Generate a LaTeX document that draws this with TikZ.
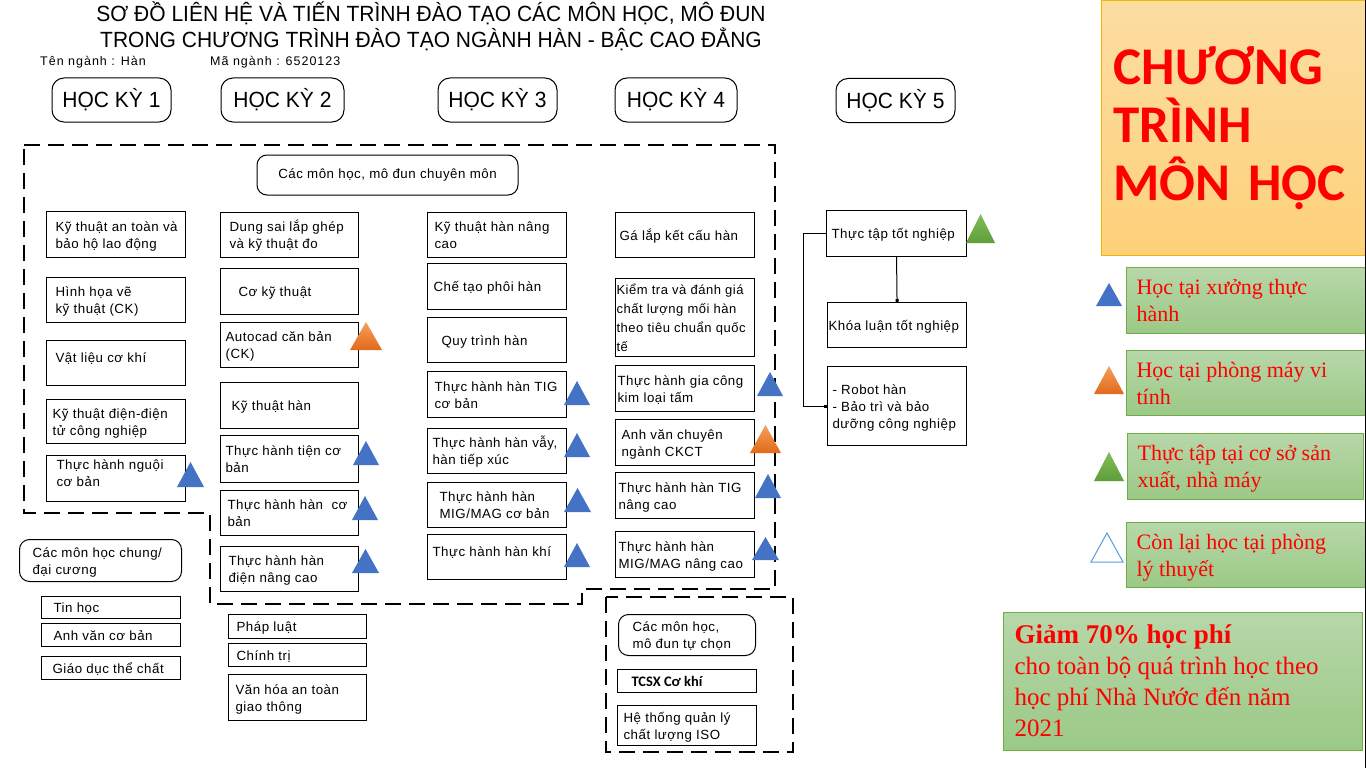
\documentclass[tikz,border=0pt]{standalone}
\usepackage{fontspec}
\setmainfont{Liberation Sans}
\newfontfamily\seriffont{Liberation Serif}
\newfontfamily\calfont{Carlito}
\newfontfamily\narrowfont[FakeStretch=0.955]{Liberation Sans}
\newfontfamily\smallnarrow[LetterSpace=8]{Liberation Sans}
\newfontfamily\boxfam[LetterSpace=4]{Liberation Sans}
\usetikzlibrary{arrows.meta}
\definecolor{triblue}{HTML}{4472C4}
\definecolor{oranA}{HTML}{F4A05C}
\definecolor{oranB}{HTML}{E2691A}
\definecolor{grnA}{HTML}{80BE5A}
\definecolor{grnB}{HTML}{5E9E38}
\definecolor{legA}{HTML}{B7D7A9}
\definecolor{legB}{HTML}{9BC986}
\definecolor{legEdge}{HTML}{70AD47}
\definecolor{panA}{HTML}{FCDDA2}
\definecolor{panB}{HTML}{FDD17A}
\definecolor{panEdge}{HTML}{F2B800}
\definecolor{outlineblue}{HTML}{5B9BD5}
\newcommand\boxfont{\boxfam\fontsize{13.3}{17}\selectfont}
\newcommand\boxfontB{\boxfam\fontsize{13}{19}\selectfont}
\newcommand\legfont{\seriffont\fontsize{22}{27}\selectfont}
\tikzset{
  box/.style={draw, line width=1.1pt, anchor=north west, align=left, inner ysep=0pt, font=\boxfont},
  pillbox/.style={box, rounded corners=10pt, line width=1pt},
  legbox/.style={draw=legEdge, line width=1.2pt, top color=legA, bottom color=legB, anchor=north west, align=left, inner ysep=0pt, text=red, font=\legfont},
  dashline/.style={line width=1.2pt, dash pattern=on 16pt off 8pt},
  semester/.style={draw, rounded corners=12pt, line width=1pt, minimum width=119pt, minimum height=44pt, font=\narrowfont\fontsize{22}{24}\selectfont},
  conn/.style={line width=1pt, -{Square[length=3pt,width=3pt]}},
}
\newcommand\bx[8][box]{\pgfmathsetmacro\tw{#5-2*#7}\node[#1, minimum width=#5pt, minimum height=#6pt, inner xsep=#7pt] (#2) at (#3,#4) {\raisebox{-2pt}[\height][\depth]{\makebox[\tw pt][l]{\begin{tabular}{@{}l@{}}#8\end{tabular}}}};}
\newcommand\bluetri[4]{\fill[triblue] (#1,#2+#4) -- ++(#3,0) -- ++(-#3/2,-#4) -- cycle;}
\newcommand\orangetri[4]{\shade[top color=oranA, bottom color=oranB] (#1,#2+#4) -- ++(#3,0) -- ++(-#3/2,-#4) -- cycle;}
\newcommand\greentri[4]{\shade[top color=grnA, bottom color=grnB] (#1,#2+#4) -- ++(#3,0) -- ++(-#3/2,-#4) -- cycle;}
\begin{document}
\begin{tikzpicture}[x=1pt,y=-1pt]
\useasboundingbox (0,0) rectangle (1366,768);
\fill[white] (0,0) rectangle (1366,768);

% title
\node[font=\narrowfont\fontsize{22}{26}\selectfont, align=center, inner sep=0pt] (title) at (431,26.5)
  {SƠ ĐỒ LIÊN HỆ VÀ TIẾN TRÌNH ĐÀO TẠO CÁC MÔN HỌC, MÔ ĐUN\\TRONG CHƯƠNG TRÌNH ĐÀO TẠO NGÀNH HÀN - BẬC CAO ĐẲNG};
\node[anchor=west, inner sep=0pt, font=\smallnarrow\fontsize{12.5}{14}\selectfont] (tennganh) at (40,62) {Tên ngành : Hàn};
\node[anchor=west, inner sep=0pt, font=\smallnarrow\fontsize{12.5}{14}\selectfont] (manganh) at (210,62) {Mã ngành : 6520123};

% semesters
\node[semester] (hk1) at (111.5,100) {HỌC KỲ 1};
\node[semester, minimum width=123pt] (hk2) at (282.5,100) {HỌC KỲ 2};
\node[semester] (hk3) at (497.5,100) {HỌC KỲ 3};
\node[semester, minimum width=122pt] (hk4) at (676,100) {HỌC KỲ 4};
\node[semester] (hk5) at (895.5,100.5) {HỌC KỲ 5};

% dashed regions
\draw[dashline] (24,145) -- (775,145) -- (775,589) -- (582,589) -- (582,604) -- (210,604) -- (210,513) -- (24,513) -- cycle;
\draw[dashline] (606,597) rectangle (793,752);

\node[pillbox, anchor=center, minimum width=261pt, minimum height=40pt, align=center] (chuyenmon) at (387.5,175) {Các môn học, mô đun chuyên môn};

% column 1
\bx{a1}{46}{211}{139}{46}{9}{Kỹ thuật an toàn và\\bảo hộ lao động}
\bx{a2}{46}{277}{139}{45}{9}{Hình họa vẽ\\kỹ thuật (CK)}
\bx{a3}{46}{340}{139}{45}{9}{Vật liệu cơ khí\\[-6pt]\mbox{}}
\bx{a4}{46}{399}{139}{44}{6}{Kỹ thuật điện-điện\\tử công nghiệp}
\bx{a5}{46}{455}{139}{45}{10}{Thực hành nguội\\cơ bản\\[-5pt]\mbox{}}

% column 2
\bx{b1}{220}{212}{138}{45}{9}{Dung sai lắp ghép\\và kỹ thuật đo}
\bx{b2}{220}{268}{138}{46}{18}{Cơ kỹ thuật}
\bx{b3}{220}{322}{138}{45}{5}{Autocad căn bản\\(CK)}
\bx{b4}{220}{382}{138}{46}{11}{Kỹ thuật hàn}
\bx{b5}{220}{435}{138}{47}{5}{Thực hành tiện cơ\\bản}
\bx{b6}{220}{490}{138}{45}{7}{Thực hành hàn \ cơ\\bản}
\bx{b7}{220}{546}{138}{45}{8}{Thực hành hàn\\điện nâng cao}

% column 3
\bx{c1}{427}{212}{139}{45}{7}{Kỹ thuật hàn nâng\\cao}
\bx{c2}{427}{263}{139}{46}{6}{Chế tạo phôi hàn}
\bx{c3}{427}{317}{139}{45}{14}{Quy trình hàn}
\bx{c4}{427}{371}{139}{46}{7}{Thực hành hàn TIG\\cơ bản}
\bx{c5}{427}{428}{139}{45}{5}{Thực hành hàn vẫy,\\hàn tiếp xúc}
\bx{c6}{427}{482}{139}{45}{12}{Thực hành hàn\\MIG/MAG cơ bản}
\bx{c7}{427}{534}{139}{45}{5}{Thực hành hàn khí\\[-5pt]\mbox{}}

% column 4
\bx{d1}{615}{212}{139}{45}{4}{Gá lắp kết cấu hàn}
\bx[box, font=\boxfontB]{d2}{615}{278}{139}{78}{1}{Kiểm tra và đánh giá\\chất lượng mối hàn\\theo tiêu chuẩn quốc\\tế}
\bx{d3}{615}{365}{139}{46}{2}{Thực hành gia công\\kim loại tấm}
\bx{d4}{615}{419}{139}{46}{6}{Anh văn chuyên\\ngành CKCT}
\bx{d5}{615}{472}{139}{46}{3}{Thực hành hàn TIG\\nâng cao}
\bx{d6}{615}{531}{139}{46}{3}{Thực hành hàn\\MIG/MAG nâng cao}

% common subjects
\bx[pillbox]{chung}{19}{539}{162}{42}{13}{Các môn học chung/\\đại cương}
\bx{e1}{41}{596}{139}{22}{12}{Tin học}
\bx{e2}{41}{623}{139}{23}{12}{Anh văn cơ bản}
\bx{e3}{41}{656}{139}{23}{11}{Giáo dục thể chất}
\bx{f1}{228}{614}{138}{24}{8}{Pháp luật}
\bx{f2}{228}{643}{138}{23}{8}{Chính trị}
\bx{f3}{228}{674}{138}{46}{7}{Văn hóa an toàn\\giao thông}

% electives
\bx[pillbox]{tuchon}{618}{614}{137}{41}{14}{Các môn học,\\mô đun tự chọn}
\bx{g1}{617}{669}{139}{23}{14}{\calfont\bfseries\fontsize{14.5}{16}\selectfont TCSX Cơ khí}
\bx{g2}{617}{705}{139}{40}{6}{Hệ thống quản lý\\chất lượng ISO}

% semester 5
\bx{h1}{826}{210}{140}{46}{5}{Thực tập tốt nghiệp}
\bx{h2}{827}{302}{139}{45}{1}{Khóa luận tốt nghiệp}
\bx{h3}{827}{366}{139}{79}{5}{- Robot hàn\\- Bảo trì và bảo\\dưỡng công nghiệp}
\draw[conn] (h1.south) -- (h2.north);
\draw[conn] (h1.west) -- ++(-23,0) |- (h3.west);

% triangles
\bluetri{177}{462}{27}{25}
\orangetri{350}{322}{32}{28}
\bluetri{353}{441}{26}{24}
\bluetri{352}{496}{26}{24}
\bluetri{352}{549}{27}{24}
\bluetri{564}{381}{26}{24}
\bluetri{564}{433}{26}{24}
\bluetri{564}{488}{27}{24}
\bluetri{564}{543}{26}{24}
\bluetri{757}{372}{26}{24}
\orangetri{750}{425}{31}{28}
\bluetri{755}{474}{26}{24}
\bluetri{752}{537}{27}{23}
\greentri{966}{214}{29}{29}

% right panel
\node[draw=panEdge, line width=1.2pt, top color=panA, bottom color=panB, anchor=north west,
  minimum width=265pt, minimum height=255pt, inner xsep=12pt, text width=241pt, align=left,
  text=red, font=\calfont\bfseries\fontsize{53}{58}\selectfont] (panel) at (1101,0) {CHƯƠNG\\TRÌNH\\MÔN HỌC};

\bx[legbox]{leg1}{1126}{267}{240}{66}{10}{Học tại xưởng thực\\hành}
\bx[legbox]{leg2}{1126}{350}{240}{65}{10}{Học tại phòng máy vi\\tính}
\bx[legbox]{leg3}{1127}{433}{236}{66}{10}{Thực tập tại cơ sở sản\\xuất, nhà máy}
\bx[legbox]{leg4}{1126}{522}{240}{65}{10}{Còn lại học tại phòng\\lý thuyết}
\bluetri{1096}{283}{26}{23}
\orangetri{1094}{366}{30}{28}
\greentri{1094}{452}{30}{29}
\draw[outlineblue, line width=1pt] (1091,562) -- (1123,562) -- (1107,533) -- cycle;

\bx[legbox, font=\seriffont\fontsize{25}{31}\selectfont]{promo}{1003}{612}{359}{138}{11}{{\fontsize{27}{31}\selectfont\bfseries Giảm 70\% học phí}\\cho toàn bộ quá trình học theo\\học phí Nhà Nước đến năm\\2021}

\fill[black] (1365,0) rectangle (1366,768);
\end{tikzpicture}
\end{document}
